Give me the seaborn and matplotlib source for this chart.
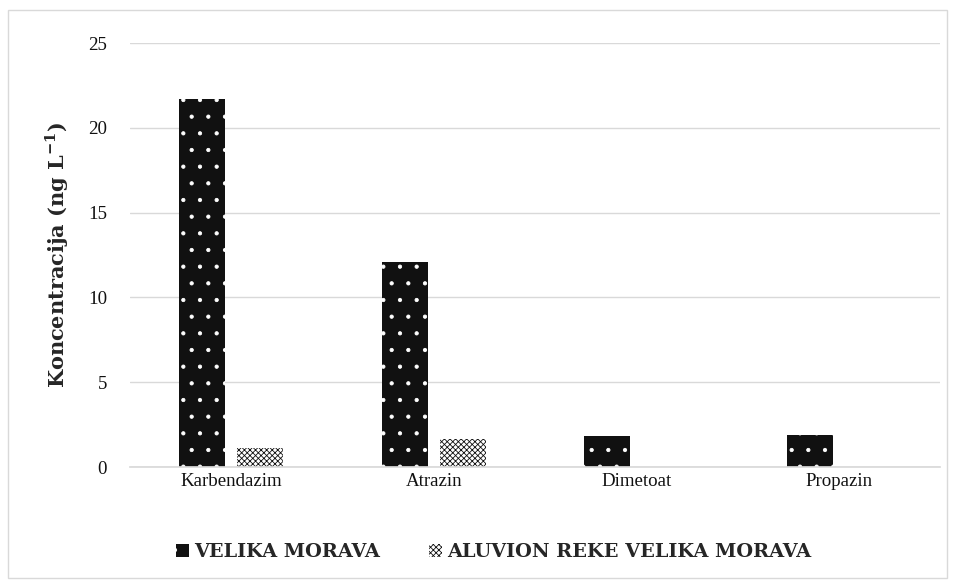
import matplotlib
matplotlib.use("Agg")
import matplotlib.pyplot as plt
import seaborn as sns
import pandas as pd
from matplotlib.patches import Rectangle

categories = ["Karbendazim", "Atrazin", "Dimetoat", "Propazin"]
series_names = ["VELIKA MORAVA", "ALUVION REKE VELIKA MORAVA"]
velika_morava = [21.7, 12.1, 1.8, 1.9]
aluvion = [1.1, 1.65, 0.0, 0.0]
y_ticks = [0, 5, 10, 15, 20, 25]

df = pd.DataFrame({
    "cat": categories * 2,
    "series": [series_names[0]] * 4 + [series_names[1]] * 4,
    "val": velika_morava + aluvion,
})

sns.set_theme(style="white")
plt.rcParams["font.family"] = ["Liberation Serif", "DejaVu Serif"]
plt.rcParams["hatch.linewidth"] = 0.6
plt.rcParams["mathtext.fontset"] = "custom"
plt.rcParams["mathtext.rm"] = "DejaVu Serif"
plt.rcParams["mathtext.bf"] = "DejaVu Serif:bold"

fig = plt.figure(figsize=(9.55, 5.81), dpi=100)
ax = fig.add_axes([130 / 955, 1 - 467 / 581, 810 / 955, 424 / 581])

sns.barplot(data=df, x="cat", y="val", hue="series", order=categories,
            hue_order=series_names, width=0.572, gap=0.206, ax=ax,
            palette=["#111111", "#ffffff"], legend=False, linewidth=0)

styles = [dict(fc="#111111", ec="white", hatch="."),
          dict(fc="#ffffff", ec="#111111", hatch="xxxxxx")]
for i, cont in enumerate(ax.containers):
    for p in cont.patches:
        p.set_facecolor(styles[i]["fc"])
        p.set_edgecolor(styles[i]["ec"])
        p.set_hatch(styles[i]["hatch"])
        p.set_linewidth(0)

ax.set_ylim(0, 25)
ax.set_xlim(-0.5, 3.5)
ax.set_yticks(y_ticks)
ax.yaxis.grid(True, color="#d9d9d9", linewidth=1)
ax.set_axisbelow(True)
for s in ["top", "right", "left"]:
    ax.spines[s].set_visible(False)
ax.spines["bottom"].set_color("#d9d9d9")
ax.tick_params(axis="both", length=0, labelsize=13.6, colors="#111111")
ax.tick_params(axis="y", pad=16.5)
ax.tick_params(axis="x", pad=4)
ax.set_xlabel("")
ax.set_ylabel("Koncentracija (ng L$^{\\mathbf{-1}}$)", fontsize=15,
              fontweight="bold", family="DejaVu Serif", labelpad=12)

handles = [Rectangle((0, 0), 1, 1, **styles[0], lw=0),
           Rectangle((0, 0), 1, 1, **styles[1], lw=0)]
fig.legend(handles, series_names, loc="center",
           bbox_to_anchor=(493.5 / 955, 1 - 552 / 581),
           ncol=2, frameon=False,
           prop=dict(weight="bold", size=13.9, family="DejaVu Serif"),
           handlelength=0.67, handleheight=0.67, columnspacing=2.54,
           handletextpad=0.26, borderpad=0, borderaxespad=0)

fig.add_artist(Rectangle((8 / 955, 3 / 581), 939 / 955, 568 / 581,
                         transform=fig.transFigure, fill=False,
                         ec="#d9d9d9", lw=1))

fig.savefig("out.png", dpi=100)
